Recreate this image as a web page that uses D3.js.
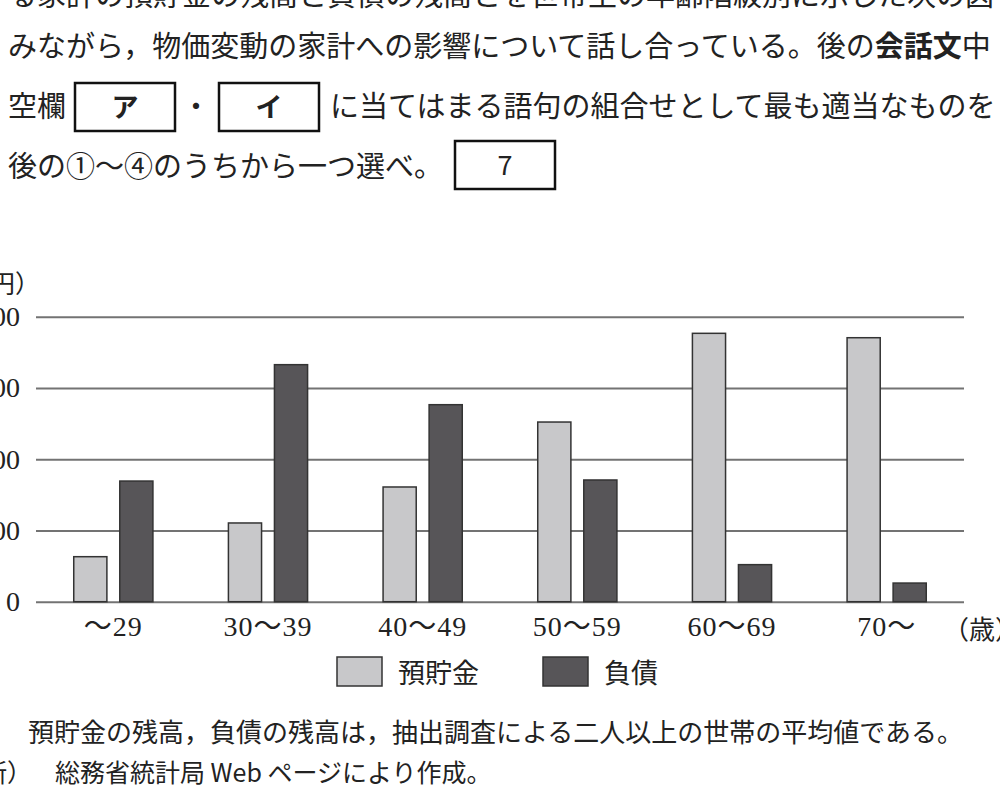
<!DOCTYPE html>
<html>
<head>
<meta charset="utf-8">
<script src="https://cdn.jsdelivr.net/npm/d3@7"></script>
<style>
  body { margin: 0; background: #fff; }
  text { fill: #222; }
</style>
</head>
<body>
<div id="svg-area"></div>
<script>
// data (万円)
var ageGroups = ["～29", "30～39", "40～49", "50～59", "60～69", "70～"];
var seriesNames = ["預貯金", "負債"];
var savings = [379, 663, 966, 1513, 2260, 2223];
var debts = [1016, 1996, 1659, 1025, 312, 157];
var yTicks = [0, 600, 1200, 1800, 2400];

var svgWidth = 1000;
var svgHeight = 807;

var jpFont = "'Noto Sans CJK JP', sans-serif";
var numFont = "'Liberation Serif', 'Noto Sans CJK JP', serif";
var barColors = ["#c8c8ca", "#575558"];

var svg = d3.select("#svg-area")
            .append("svg")
            .attr("width", svgWidth)
            .attr("height", svgHeight);

// question text above the chart
var textLines = [
  { y: 6, parts: [["る家計の預貯金の残高と負債の残高とを世帯主の年齢階級別に示した次の図", 400]] },
  { y: 57, parts: [["みながら，物価変動の家計への影響について話し合っている。後の", 400], ["会話文", 700], ["中", 400]] }
];
textLines.forEach(function(line) {
  var t = svg.append("text")
             .attr("x", 8)
             .attr("y", line.y)
             .style("font-family", jpFont)
             .style("font-size", "29px");
  line.parts.forEach(function(p) {
    t.append("tspan").text(p[0]).style("font-weight", p[1]);
  });
});

svg.append("text").attr("x", 8).attr("y", 117)
   .style("font-family", jpFont).style("font-size", "29px").text("空欄");
svg.append("text").attr("x", 196).attr("y", 117).attr("text-anchor", "middle")
   .style("font-family", jpFont).style("font-size", "29px").text("・");
svg.append("text").attr("x", 330).attr("y", 117)
   .style("font-family", jpFont).style("font-size", "29px")
   .text("に当てはまる語句の組合せとして最も適当なものを");
svg.append("text").attr("x", 8).attr("y", 177)
   .style("font-family", jpFont).style("font-size", "29px")
   .text("後の①～④のうちから一つ選べ。");

var boxes = [
  { x: 75, y: 83, label: "ア" },
  { x: 219, y: 83, label: "イ" },
  { x: 455, y: 141, label: "7" }
];
boxes.forEach(function(b) {
  svg.append("rect")
     .attr("x", b.x).attr("y", b.y)
     .attr("width", 100).attr("height", 48)
     .attr("fill", "none").attr("stroke", "#111").attr("stroke-width", 2.5);
  svg.append("text")
     .attr("x", b.x + 50).attr("y", b.y + 34)
     .attr("text-anchor", "middle")
     .style("font-family", jpFont).style("font-size", "27px")
     .style("font-weight", b.label === "7" ? 400 : 700)
     .text(b.label);
});

// chart area
var plotLeft = 36, plotRight = 964, plotTop = 316.7, plotBottom = 601.7;

var yScale = d3.scaleLinear()
               .domain([0, 2400])
               .range([plotBottom, plotTop]);

var xScale = d3.scaleBand()
               .domain(ageGroups)
               .range([plotLeft, plotRight]);

var xSub = d3.scaleBand()
             .domain(seriesNames)
             .range([0, xScale.bandwidth()])
             .paddingInner(0.28)
             .paddingOuter(0.82);

// gridlines + y labels
var yAxis = d3.axisLeft(yScale)
              .tickValues(yTicks)
              .tickSize(-(plotRight - plotLeft))
              .tickPadding(16);

var yG = svg.append("g")
            .attr("transform", `translate(${plotLeft}, 0)`)
            .call(yAxis);
yG.select(".domain").remove();
yG.selectAll(".tick line").attr("stroke", "#737373").attr("stroke-width", 2);
yG.selectAll(".tick text")
  .style("font-family", numFont).style("font-size", "28px").attr("fill", "#222");

svg.append("text").attr("x", 40).attr("y", 293).attr("text-anchor", "end")
   .style("font-family", jpFont).style("font-size", "25px").text("（万円）");

// bars
var rows = ageGroups.map(function(g, i) {
  return { group: g, values: [savings[i], debts[i]] };
});

var groups = svg.selectAll(".grp")
                .data(rows)
                .enter()
                .append("g")
                .attr("transform", d => `translate(${xScale(d.group)}, 0)`);

groups.selectAll("rect")
      .data(d => d.values.map((v, k) => ({ name: seriesNames[k], value: v, k: k })))
      .enter()
      .append("rect")
      .attr("x", d => xSub(d.name))
      .attr("y", d => yScale(d.value))
      .attr("width", xSub.bandwidth())
      .attr("height", d => plotBottom - yScale(d.value))
      .attr("fill", d => barColors[d.k])
      .attr("stroke", "#333")
      .attr("stroke-width", 1.5);

// x labels
var xAxis = d3.axisBottom(xScale).tickSize(0).tickPadding(14);
var xG = svg.append("g")
            .attr("transform", `translate(0, ${plotBottom})`)
            .call(xAxis);
xG.select(".domain").remove();
xG.selectAll(".tick text")
  .style("font-family", numFont).style("font-size", "28px")
  .style("letter-spacing", "1px").attr("fill", "#222");

svg.append("text").attr("x", 943).attr("y", 639)
   .style("font-family", jpFont).style("font-size", "26px").text("（歳）");

// legend
var legendX = [337, 543];
seriesNames.forEach(function(name, k) {
  svg.append("rect")
     .attr("x", legendX[k]).attr("y", 657)
     .attr("width", 45).attr("height", 29)
     .attr("fill", barColors[k]).attr("stroke", "#333").attr("stroke-width", 1.5);
  svg.append("text")
     .attr("x", legendX[k] + 61).attr("y", 683)
     .style("font-family", jpFont).style("font-size", "27px")
     .text(name);
});

// notes
svg.append("text").attr("x", 28).attr("y", 742)
   .style("font-family", jpFont).style("font-size", "26px")
   .text("預貯金の残高，負債の残高は，抽出調査による二人以上の世帯の平均値である。");
svg.append("text").attr("x", 32).attr("y", 782).attr("text-anchor", "end")
   .style("font-family", jpFont).style("font-size", "25px").text("（出所）");
svg.append("text").attr("x", 55).attr("y", 782)
   .style("font-family", jpFont).style("font-size", "25px")
   .text("総務省統計局 Web ページにより作成。");
</script>
</body>
</html>
